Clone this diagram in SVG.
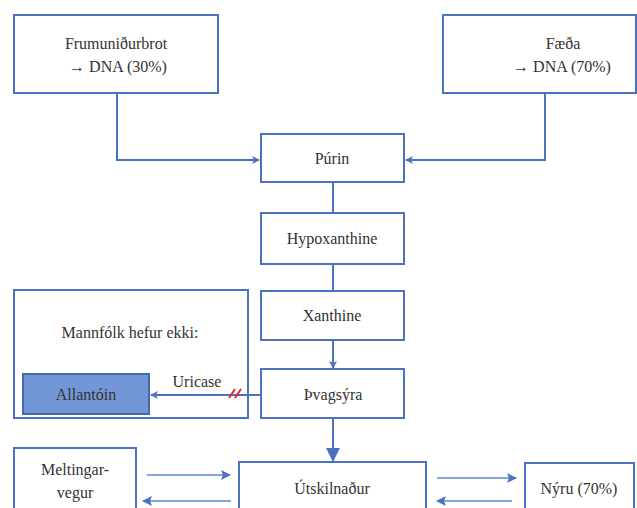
<svg xmlns="http://www.w3.org/2000/svg" width="637" height="508" viewBox="0 0 637 508">
<style>
.box{fill:#fff;stroke:#4a72c0;stroke-width:2}
.t{font-family:'Liberation Serif','DejaVu Serif',serif;font-size:16px;fill:#333;text-anchor:middle}
.c{fill:none;stroke:#4a72c0;stroke-width:2}
.thin{fill:none;stroke:#5f86d0;stroke-width:1.3}
</style>
<defs>
<marker id="ah" markerWidth="8" markerHeight="8" refX="7" refY="4" orient="auto" markerUnits="userSpaceOnUse"><path d="M0,0 L8,4 L0,8 L2,4 Z" fill="#4a72c0"/></marker>
<marker id="ahb" markerWidth="14" markerHeight="14" refX="13" refY="7" orient="auto" markerUnits="userSpaceOnUse"><path d="M0,0 L14,7 L0,14 Z" fill="#4a72c0"/></marker>
<marker id="ahs" markerWidth="10" markerHeight="10" refX="9" refY="5" orient="auto" markerUnits="userSpaceOnUse"><path d="M0,0 L10,5 L0,10 L2,5 Z" fill="#4a72c0"/></marker>
</defs>
<g id="frumunidurbrot"><rect class="box" x="14" y="15" width="204" height="78"/><text class="t" x="116" y="49">Frumuniðurbrot</text><text class="t" x="118" y="72">→ DNA (30%)</text></g>
<g id="faeda"><rect class="box" x="443" y="15" width="193" height="78"/><text class="t" x="563" y="49">Fæða</text><text class="t" x="562" y="72">→ DNA (70%)</text></g>
<g id="purin"><rect class="box" x="261" y="134" width="143" height="48"/><text class="t" x="332" y="164">Púrin</text></g>
<g id="hypoxanthine"><rect class="box" x="261" y="213" width="143" height="51"/><text class="t" x="332" y="244">Hypoxanthine</text></g>
<g id="xanthine"><rect class="box" x="261" y="291" width="143" height="49"/><text class="t" x="332" y="321">Xanthine</text></g>
<g id="thvagsyra"><rect class="box" x="261" y="369" width="143" height="49"/><text class="t" x="333" y="400">Þvagsýra</text></g>
<g id="mannfolk"><rect class="box" x="14" y="290" width="234" height="128"/><text class="t" x="130" y="338">Mannfólk hefur ekki:</text><text class="t" x="197" y="387">Uricase</text></g>
<g id="allantoin"><rect x="23" y="374" width="126" height="40" fill="#7397d6" stroke="#4668b0" stroke-width="2"/><text class="t" x="86" y="400" fill="#222">Allantóin</text></g>
<g id="utskilnadur"><rect class="box" x="239" y="462" width="187" height="60"/><text class="t" x="332" y="494">Útskilnaður</text></g>
<g id="meltingarvegur"><rect class="box" x="14" y="448" width="122" height="70"/><text class="t" x="75" y="475">Meltingar-</text><text class="t" x="75" y="498">vegur</text></g>
<g id="nyru"><rect class="box" x="525" y="463" width="109" height="50"/><text class="t" x="579" y="494">Nýru (70%)</text></g>
<g id="connectors">
<path class="c" d="M117,93 V160 H259" marker-end="url(#ah)"/>
<path class="c" d="M545,93 V160 H406" marker-end="url(#ah)"/>
<path class="c" d="M333,182 V213"/>
<path class="c" d="M333,264 V291"/>
<path class="c" d="M333,340 V368" marker-end="url(#ah)"/>
<path class="c" d="M333,418 V461" stroke-width="3.5" marker-end="url(#ahb)"/>
<path class="c" d="M261,395 H151" marker-end="url(#ah)"/>
<path d="M229,398 L235,389 M235,398 L241,389" stroke="#e8262a" stroke-width="2" fill="none"/>
<path class="thin" d="M147,475 H230" marker-end="url(#ahs)"/>
<path class="thin" d="M231,501 H143" marker-end="url(#ahs)"/>
<path class="thin" d="M437,478 H516" marker-end="url(#ahs)"/>
<path class="thin" d="M512,501 H437" marker-end="url(#ahs)"/>
</g>
</svg>
